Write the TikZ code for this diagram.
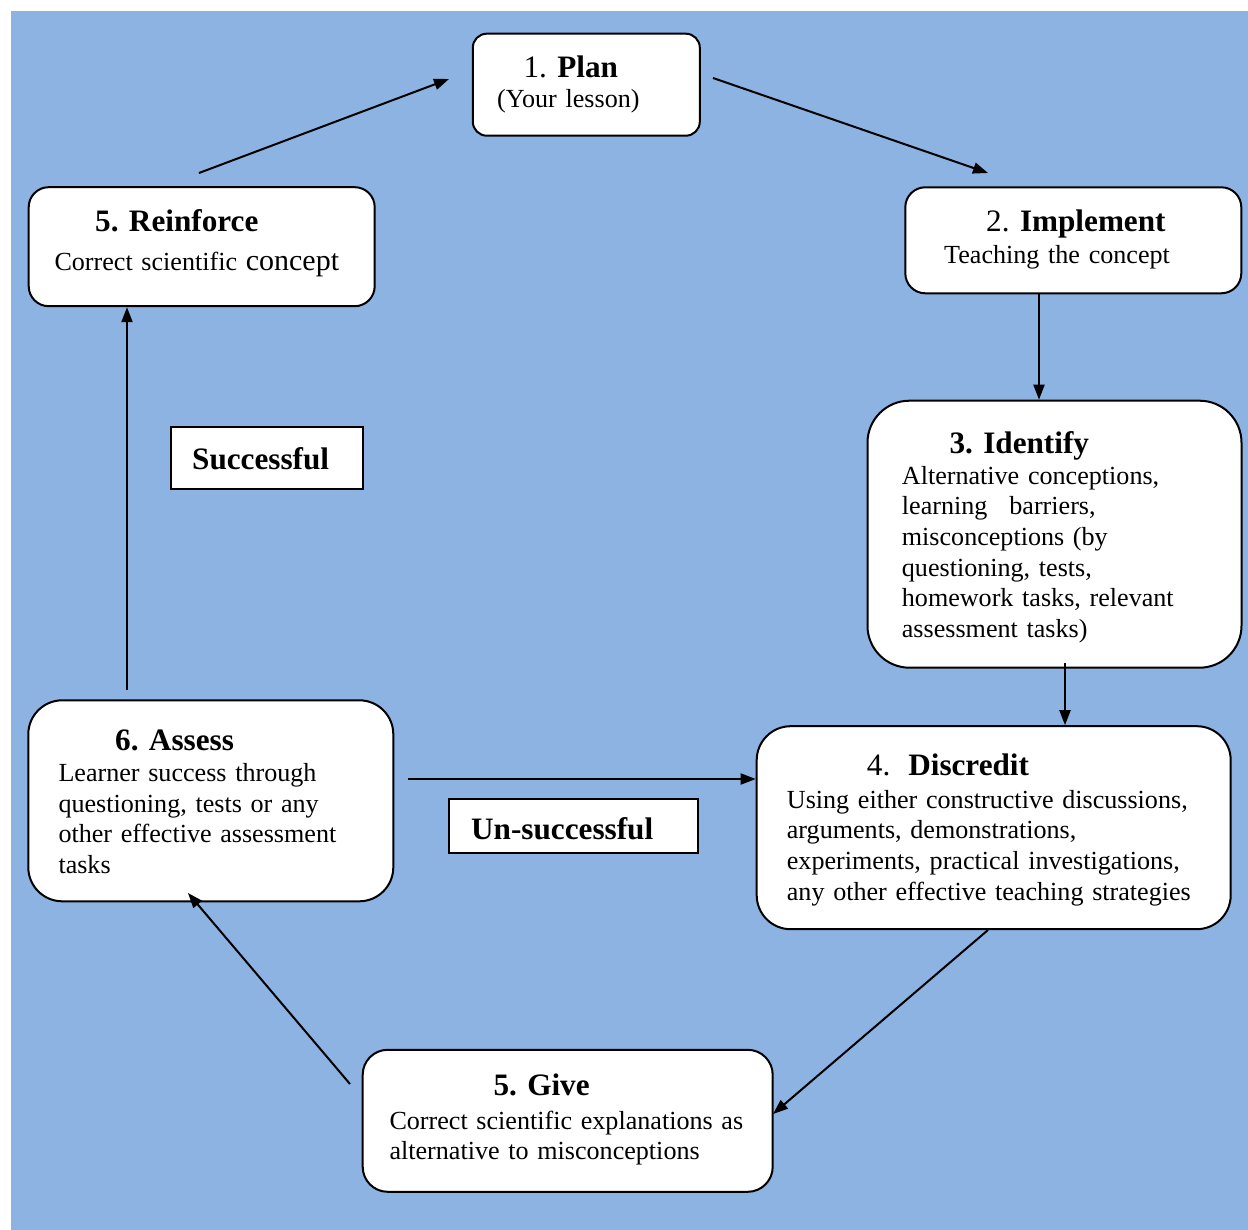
\documentclass[tikz,border=0pt]{standalone}
\usepackage{fontspec}
\setmainfont{Liberation Serif}
\usetikzlibrary{arrows.meta}
\definecolor{bgblue}{RGB}{141,179,226}
\newcommand\bodyfont{\fontsize{26.1}{30.7}\selectfont}
\newcommand\titlefont{\fontsize{31.2}{36}\selectfont}
\newcommand\bigfont{\fontsize{30}{36}\selectfont}
\begin{document}
\begin{tikzpicture}[x=1pt,y=-1pt,
  box/.style={draw=black, line width=2pt, fill=white, inner sep=0pt},
  lbl/.style={draw=black, line width=2pt, fill=white, inner sep=0pt},
  ttl/.style={anchor=base west, inner sep=0pt, font=\titlefont},
  bodytxt/.style={anchor=base west, inner sep=0pt, font=\bodyfont, align=left, text width=440pt},
  conn/.style={line width=2pt, -{Triangle[length=15pt,width=11pt]}}]
\useasboundingbox (0,0) rectangle (1248,1230);
\fill[bgblue] (11,11) rectangle (1248,1230);

% boxes
\node[box, rounded corners=14pt, minimum width=227pt, minimum height=102pt] (plan) at (586.3,84.7) {};
\node[box, rounded corners=20pt, minimum width=336pt, minimum height=106pt] (impl) at (1073.3,240.3) {};
\node[box, rounded corners=20pt, minimum width=346pt, minimum height=119pt] (reinf) at (201.7,246.7) {};
\node[box, rounded corners=42pt, minimum width=374pt, minimum height=267pt] (ident) at (1054.5,534.2) {};
\node[box, rounded corners=34pt, minimum width=365pt, minimum height=201pt] (assess) at (210.8,800.8) {};
\node[box, rounded corners=34pt, minimum width=474pt, minimum height=203pt] (discr) at (993.7,827.7) {};
\node[box, rounded corners=25pt, minimum width=410pt, minimum height=142pt] (give) at (567.7,1120.8) {};
\node[lbl, minimum width=192pt, minimum height=62pt] (succ) at (267,458.3) {};
\node[lbl, minimum width=249pt, minimum height=54pt] (unsucc) at (573.5,826) {};

% texts
\node[ttl] (t1) at (523.3,78) {1. \textbf{Plan}};
\node[bodytxt] (b1) at (497,107.5) {(Your lesson)};
\node[ttl] (t2) at (986,232) {2. \textbf{Implement}};
\node[bodytxt] (b2) at (944,264) {Teaching the concept};
\node[ttl] (t5r) at (95,232) {\textbf{5. Reinforce}};
\node[bodytxt] (b5r) at (54.3,270.5) {Correct scientific {\bigfont concept}};
\node[ttl] (t3) at (949.3,453.5) {\textbf{3. Identify}};
\node[bodytxt] (b3) at (901.7,484) {Alternative conceptions,\\learning\hspace{22pt}barriers,\\misconceptions (by\\questioning, tests,\\homework tasks, relevant\\assessment tasks)};
\node[ttl] (t4) at (866.7,775) {4.\hspace{18pt}\textbf{Discredit}};
\node[bodytxt] (b4) at (786.7,808) {Using either constructive discussions,\\arguments, demonstrations,\\experiments, practical investigations,\\any other effective teaching strategies};
\node[ttl] (t6) at (115,750.5) {\textbf{6. Assess}};
\node[bodytxt] (b6) at (58.3,781.5) {Learner success through\\questioning, tests or any\\other effective assessment\\tasks};
\node[ttl] (t5g) at (493.3,1095.5) {\textbf{5. Give}};
\node[bodytxt] (b5g) at (389.3,1129) {Correct scientific explanations as\\alternative to misconceptions};
\node[ttl] (ts) at (192,470) {\textbf{Successful}};
\node[ttl] (tu) at (471,839.5) {\textbf{Un-successful}};

% connector end points
\coordinate (a1s) at (199,173);
\coordinate (a1e) at (449,79);
\coordinate (a2s) at (713,78);
\coordinate (a2e) at (988,173);
\coordinate (a5s) at (988,930);
\coordinate (a5e) at (773,1114);
\coordinate (a6s) at (350,1084);
\coordinate (a6e) at (188,893);
\coordinate (a7s) at (408,779);
\coordinate (a8s) at (127,690);
\coordinate (a4s) at (1065,663);

% connectors
\draw[conn] (a1s) -- (a1e);
\draw[conn] (a2s) -- (a2e);
\draw[conn] (impl.south -| 1039,0) -- (ident.north -| 1039,0);
\draw[conn] (a4s) -- (discr.north -| a4s);
\draw[conn] (a5s) -- (a5e);
\draw[conn] (a6s) -- (a6e);
\draw[conn] (a7s) -- (discr.west |- a7s);
\draw[conn] (a8s) -- (reinf.south -| a8s);
\end{tikzpicture}
\end{document}
